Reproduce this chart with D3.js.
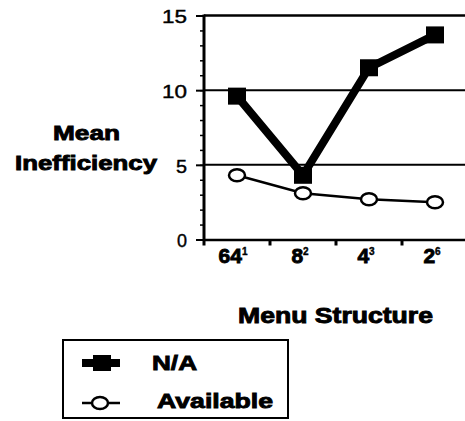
<!DOCTYPE html>
<html><head><meta charset="utf-8">
<script src="https://cdn.jsdelivr.net/npm/d3@7"></script>
<style>html,body{margin:0;padding:0;background:#fff;}svg{display:block;}</style>
</head><body>
<script>
const categories = ["64", "8", "4", "2"];
const exponents = ["1", "2", "3", "6"];
const naValues = [9.6, 4.3, 11.5, 13.7];
const availValues = [4.3, 3.1, 2.7, 2.5];
const yMajorTicks = [0, 5, 10, 15];
const yMinorTicks = d3.range(0, 16);
const gridValues = [5, 10, 15];
const yTickWidths = {0: 10, 5: 11, 10: 25, 15: 25};

const W = 465, H = 421;
const svg = d3.select("body").append("svg").attr("width", W).attr("height", H);
const font = "'Liberation Sans', Arial, sans-serif";
const boldStroke = 0.9;

const x = d3.scaleBand().domain(categories).range([204, 468]).padding(0);
const y = d3.scaleLinear().domain([0, 15]).range([239.5, 15.5]);

// gridlines
svg.append("g").selectAll("line").data(gridValues).join("line")
  .attr("x1", 204).attr("x2", W).attr("y1", d => y(d)).attr("y2", d => y(d))
  .attr("stroke", "#000").attr("stroke-width", d => d === 15 ? 2.5 : 2);

// minor ticks
const gMinor = svg.append("g").attr("transform", "translate(204,0)")
  .call(d3.axisLeft(y).tickValues(yMinorTicks).tickSize(4).tickFormat(""));
gMinor.select(".domain").remove();
gMinor.selectAll("line").attr("stroke", "#000").attr("stroke-width", 1.5);

// major ticks + labels
const gMajor = svg.append("g").attr("transform", "translate(204,0)")
  .call(d3.axisLeft(y).tickValues(yMajorTicks).tickSize(8).tickPadding(8));
gMajor.select(".domain").remove();
gMajor.selectAll("line").attr("stroke", "#000").attr("stroke-width", 2);
gMajor.selectAll("text").attr("font-family", font).attr("font-size", 18)
  .attr("fill", "#000").attr("stroke", "#000").attr("stroke-width", 0.4).attr("dy", "0.4em")
  .attr("x", -17)
  .attr("textLength", d => yTickWidths[d]).attr("lengthAdjust", "spacingAndGlyphs");

// y axis line
svg.append("line").attr("x1", 204).attr("x2", 204).attr("y1", y(15) - 1).attr("y2", y(0) + 1)
  .attr("stroke", "#000").attr("stroke-width", 3);

// x axis
const gx = svg.append("g").attr("transform", `translate(0,${y(0)})`)
  .call(d3.axisBottom(x).tickSize(0).tickFormat(""));
gx.select(".domain").attr("stroke", "#000").attr("stroke-width", 2.5);
// x ticks at band boundaries
const bounds = categories.map(c => x(c));
svg.append("g").selectAll("line").data(bounds).join("line")
  .attr("x1", d => d).attr("x2", d => d).attr("y1", y(0)).attr("y2", y(0) + 6)
  .attr("stroke", "#000").attr("stroke-width", 3);

// x labels with superscripts
const xl = svg.append("g").selectAll("text").data(categories).join("text")
  .attr("font-family", font).attr("font-weight", "bold").attr("fill", "#000")
  .attr("stroke", "#000").attr("stroke-width", boldStroke)
  .attr("x", (d, i) => x(d) + x.bandwidth() / 2 - (d.length === 2 ? 4 : 3))
  .attr("y", 263).attr("text-anchor", "middle");
xl.append("tspan").attr("font-size", 21).text(d => d);
xl.append("tspan").attr("font-size", 10).attr("dy", -8).attr("stroke-width", 0.4).text((d, i) => exponents[i]);

// axis titles
function boldText(tx, ty, size, len, str) {
  return svg.append("text").attr("font-family", font).attr("font-weight", "bold").attr("font-size", size)
    .attr("fill", "#000").attr("stroke", "#000").attr("stroke-width", boldStroke)
    .attr("x", tx).attr("y", ty).attr("textLength", len).attr("lengthAdjust", "spacingAndGlyphs")
    .text(str);
}
boldText(238, 323, 22, 195, "Menu Structure");
boldText(53, 140, 21, 67, "Mean");
boldText(15, 170, 21, 142, "Inefficiency");

const cx = d => x(d) + x.bandwidth() / 2;

// N/A series
svg.append("path").datum(naValues)
  .attr("d", d3.line().x((d, i) => cx(categories[i])).y(d => y(d)))
  .attr("fill", "none").attr("stroke", "#000").attr("stroke-width", 8).attr("stroke-linejoin", "miter");
svg.append("g").selectAll("rect").data(naValues).join("rect")
  .attr("x", (d, i) => cx(categories[i]) - 9).attr("y", d => y(d) - 8.5)
  .attr("width", 18).attr("height", 17).attr("fill", "#000");

// Available series
svg.append("path").datum(availValues)
  .attr("d", d3.line().x((d, i) => cx(categories[i])).y(d => y(d)))
  .attr("fill", "none").attr("stroke", "#000").attr("stroke-width", 2.5);
svg.append("g").selectAll("ellipse").data(availValues).join("ellipse")
  .attr("cx", (d, i) => cx(categories[i])).attr("cy", d => y(d))
  .attr("rx", 8).attr("ry", 6).attr("fill", "#fff").attr("stroke", "#000").attr("stroke-width", 2.5);

// legend
const lg = svg.append("g");
lg.append("rect").attr("x", 63).attr("y", 340).attr("width", 225).attr("height", 78)
  .attr("fill", "none").attr("stroke", "#000").attr("stroke-width", 2);
lg.append("line").attr("x1", 82).attr("x2", 120).attr("y1", 363).attr("y2", 363)
  .attr("stroke", "#000").attr("stroke-width", 8);
lg.append("rect").attr("x", 93).attr("y", 355).attr("width", 18).attr("height", 16).attr("fill", "#000");
lg.append("line").attr("x1", 82).attr("x2", 120).attr("y1", 403).attr("y2", 403)
  .attr("stroke", "#000").attr("stroke-width", 2.5);
lg.append("ellipse").attr("cx", 100).attr("cy", 403).attr("rx", 8).attr("ry", 6)
  .attr("fill", "#fff").attr("stroke", "#000").attr("stroke-width", 2.5);
boldText(152, 370, 21, 45, "N/A");
boldText(157, 408, 21, 116, "Available");
</script>
</body></html>
